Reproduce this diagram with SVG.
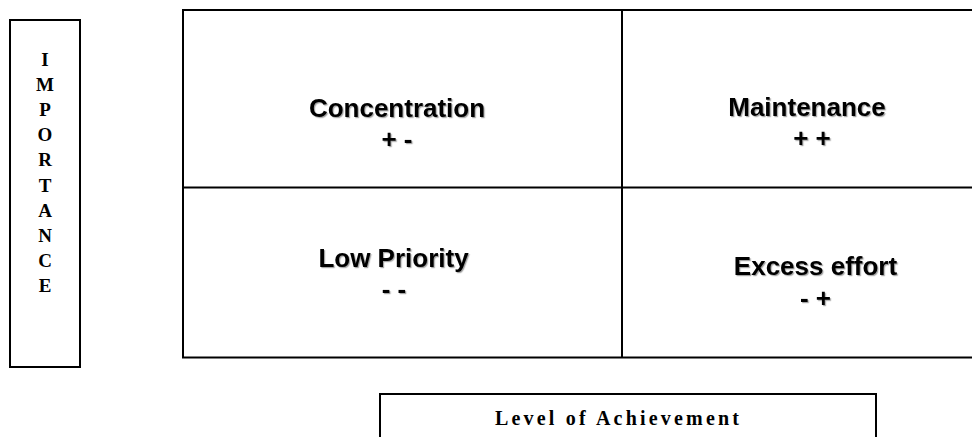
<svg xmlns="http://www.w3.org/2000/svg" width="972" height="437" viewBox="0 0 972 437">
  <defs>
    <filter id="shadow" x="-10%" y="-20%" width="120%" height="150%">
      <feDropShadow dx="1.2" dy="1.2" stdDeviation="0.6" flood-color="#000" flood-opacity="0.35"/>
    </filter>
  </defs>
  <style>
    .box { fill: #fff; stroke: #000; stroke-width: 2; }
    .line { stroke: #000; stroke-width: 2; fill: none; }
    .cell { font-family: "Liberation Sans", Arial, sans-serif; font-weight: bold; font-size: 26px; fill: #000; text-anchor: middle; filter: url(#shadow); }
    .serif { font-family: "Liberation Serif", "Times New Roman", serif; font-weight: bold; fill: #000; text-anchor: middle; }
    .vert { font-size: 19px; }
    .axis { font-size: 20px; letter-spacing: 3.2px; }
  </style>
  <rect width="972" height="437" fill="#fff"/>

  <g id="importance">
    <rect class="box" x="10" y="20" width="70" height="347"/>
    <text class="serif vert" x="45" y="65.5">I</text>
    <text class="serif vert" x="45" y="90.7">M</text>
    <text class="serif vert" x="45" y="115.9">P</text>
    <text class="serif vert" x="45" y="141.1">O</text>
    <text class="serif vert" x="45" y="166.3">R</text>
    <text class="serif vert" x="45" y="191.5">T</text>
    <text class="serif vert" x="45" y="216.7">A</text>
    <text class="serif vert" x="45" y="241.9">N</text>
    <text class="serif vert" x="45" y="267.1">C</text>
    <text class="serif vert" x="45" y="292.3">E</text>
  </g>

  <g id="matrix">
    <rect class="box" x="183" y="10" width="800" height="347.5"/>
  </g>

  <g id="connectors">
    <line class="line" x1="622" y1="10" x2="622" y2="357.5"/>
    <line class="line" x1="183" y1="187.5" x2="975" y2="187.5"/>
  </g>

  <g id="concentration">
    <text class="cell" x="397" y="117">Concentration</text>
    <text class="cell" x="397" y="148">+ -</text>
  </g>

  <g id="maintenance">
    <text class="cell" x="807" y="116">Maintenance</text>
    <text class="cell" x="812" y="147">+ +</text>
  </g>

  <g id="low-priority">
    <text class="cell" x="393.5" y="266.5">Low Priority</text>
    <text class="cell" x="394" y="298">- -</text>
  </g>

  <g id="excess-effort">
    <text class="cell" x="815.5" y="275">Excess effort</text>
    <text class="cell" x="815.5" y="307">- +</text>
  </g>

  <g id="achievement">
    <rect class="box" x="380" y="394" width="496" height="60"/>
    <text class="serif axis" x="618.6" y="425">Level of Achievement</text>
  </g>
</svg>
